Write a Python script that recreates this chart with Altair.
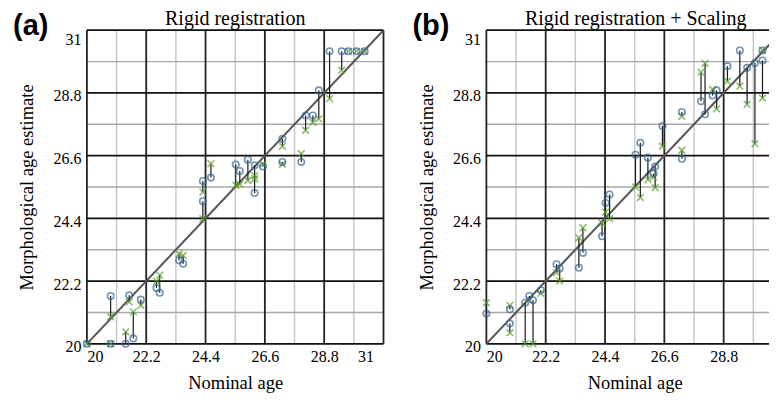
import altair as alt
import pandas as pd

# ---------------- data ----------------
major_ticks = [20, 22.2, 24.4, 26.6, 28.8, 31]
minor_ticks = [21.1, 23.3, 25.5, 27.7, 29.9]
diag = [20, 31]

# Panel (a): Rigid registration
a_nominal = [20.0, 20.88, 20.88, 21.44, 21.57, 21.72, 22.0, 22.58, 22.7, 23.42, 23.57,
             24.3, 24.3, 24.6, 25.52, 25.67, 25.97, 26.22, 26.22, 26.53, 27.25, 27.25,
             27.95, 28.11, 28.38, 28.6, 29.0, 29.45, 29.7, 30.0, 30.3]
a_circle = [20.0, 21.68, 20.0, 20.0, 21.7, 20.19, 21.55, 21.96, 21.79, 22.93, 22.81,
            25.0, 25.71, 25.83, 26.29, 26.06, 26.46, 26.26, 25.29, 26.22, 27.19, 26.38,
            26.38, 28.01, 28.01, 28.89, 30.26, 30.26, 30.26, 30.26, 30.26]
a_cross = [20.0, 20.95, 20.0, 20.42, 21.47, 21.12, 21.35, 22.2, 22.41, 23.16, 23.1,
           24.39, 25.32, 26.32, 25.56, 25.6, 25.73, 25.79, 25.9, 26.3, 26.93, 26.3,
           26.67, 27.49, 27.77, 27.89, 28.6, 29.6, 30.26, 30.26, 30.26]

# Panel (b): Rigid registration + Scaling
b_nominal = [20.0, 20.87, 20.87, 21.44, 21.59, 21.73, 22.02, 22.6, 22.72, 23.43, 23.58,
             24.29, 24.42, 24.57, 25.53, 25.71, 25.99, 26.26, 26.2, 26.53, 27.25, 27.25,
             27.96, 28.11, 28.39, 28.54, 28.94, 29.4, 29.67, 29.96, 30.24, 30.24]
b_circle = [21.06, 21.21, 20.71, 21.44, 21.68, 21.53, 21.88, 22.79, 22.64, 22.67, 23.19,
            23.77, 24.94, 25.24, 26.63, 27.05, 26.53, 26.22, 25.97, 27.64, 28.13, 26.49,
            28.51, 28.05, 28.71, 28.89, 29.74, 30.29, 29.68, 29.85, 30.29, 29.94]
b_cross = [21.44, 21.35, 20.39, 20.0, 21.55, 20.0, 21.77, 22.5, 22.2, 23.72, 24.07,
           24.24, 24.62, 24.39, 25.5, 25.13, 25.76, 25.48, 25.85, 26.93, 27.98, 26.79,
           29.53, 29.84, 28.92, 28.24, 29.21, 29.04, 28.4, 27.02, 30.3, 28.62]

SERIF = "Liberation Serif"
SANS = "Liberation Sans"
BLUE = "#3b6795"
GREEN = "#5a9e2c"
XSHAPE = "M-1,-1L1,1M-1,1L1,-1"
PX_PER_UNIT = 297 / 11.0


def panel(nom, circ, cross, title, tag, width, title_dx):
    xmax = 20 + width / PX_PER_UNIT
    xticks = [t for t in major_ticks if t <= xmax + 1e-9]
    df = pd.DataFrame({"nominal": nom, "circle": circ, "cross": cross})
    xs = alt.Scale(domain=[20, xmax], nice=False, zero=False)
    ys = alt.Scale(domain=[20, 31], nice=False, zero=False)

    xaxis = alt.Axis(values=xticks, format=".1~f", title="Nominal age",
                     grid=False, ticks=False, domain=False,
                     labelFont=SERIF, labelFontSize=16, labelPadding=5,
                     labelOffset={"condition": {"test": "datum.value == 31", "value": -10},
                                  "value": 0},
                     labelColor="black", titleColor="black",
                     titleFont=SERIF, titleFontSize=18.5, titleX=148.5,
                     titleFontWeight="normal", titlePadding=9)
    yaxis = alt.Axis(values=major_ticks, format=".1~f",
                     title="Morphological age estimate",
                     grid=False, ticks=False, domain=False,
                     labelFont=SERIF, labelFontSize=16, labelPadding=6,
                     labelOffset={"condition": {"test": "datum.value == 31", "value": 9},
                                  "value": 3},
                     labelColor="black", titleColor="black",
                     titleFont=SERIF, titleFontSize=18.5,
                     titleFontWeight="normal", titlePadding=16)

    minor = pd.DataFrame({"v": minor_ticks})
    major = pd.DataFrame({"v": major_ticks})

    def X(f):
        return alt.X(f, scale=xs, axis=xaxis)

    def Y(f):
        return alt.Y(f, scale=ys, axis=yaxis)

    gx_minor = alt.Chart(minor).mark_rule(color="#c4c4c4", strokeWidth=1.4).encode(x=X("v:Q"))
    gy_minor = alt.Chart(minor).mark_rule(color="#a8a8a8", strokeWidth=1.4).encode(y=Y("v:Q"))
    gx_major = alt.Chart(major).transform_filter(
        alt.datum.v <= xmax + 1e-9).mark_rule(color="#222222", strokeWidth=1.8).encode(x=X("v:Q"))
    gy_major = alt.Chart(major).mark_rule(color="#111111", strokeWidth=1.8).encode(y=Y("v:Q"))

    line = alt.Chart(pd.DataFrame({"v": diag})).mark_line(
        color="#555555", strokeWidth=2, clip=True).encode(x=X("v:Q"), y=Y("v:Q"))

    segs = alt.Chart(df).mark_rule(color="#1a1a1a", strokeWidth=1.2).encode(
        x=X("nominal:Q"), y=Y("circle:Q"), y2="cross:Q")

    crosses = alt.Chart(df).mark_point(
        shape=XSHAPE, filled=False, color=GREEN, size=45, strokeWidth=1.6).encode(
        x=X("nominal:Q"), y=Y("cross:Q"))
    circles = alt.Chart(df).mark_point(
        shape="circle", filled=False, color=BLUE, size=42, strokeWidth=1.6).encode(
        x=X("nominal:Q"), y=Y("circle:Q"))

    label = alt.Chart(pd.DataFrame({"t": [tag]})).mark_text(
        font=SANS, fontSize=29, fontWeight="bold", align="left",
        baseline="middle", color="black").encode(
        text="t:N", x=alt.value(-74), y=alt.value(-4))

    return alt.layer(gx_minor, gy_minor, gx_major, gy_major, line, segs,
                     crosses, circles, label).properties(
        width=width, height=314,
        title=alt.TitleParams(title, font=SERIF, fontSize=20, fontWeight="normal",
                              color="black", offset=5, frame="group",
                              dx=title_dx, dy=22))


pa = panel(a_nominal, a_circle, a_cross, "Rigid registration", "(a)", 297, 0)
pb = panel(b_nominal, b_circle, b_cross, "Rigid registration + Scaling", "(b)", 283, 8)

chart = alt.hconcat(pa, pb, spacing=28).properties(
    padding={"left": 5, "top": 1, "right": 0, "bottom": 0}
).configure_view(stroke=None)

chart.save("out.html", embed_options={"renderer": "svg", "actions": False})
